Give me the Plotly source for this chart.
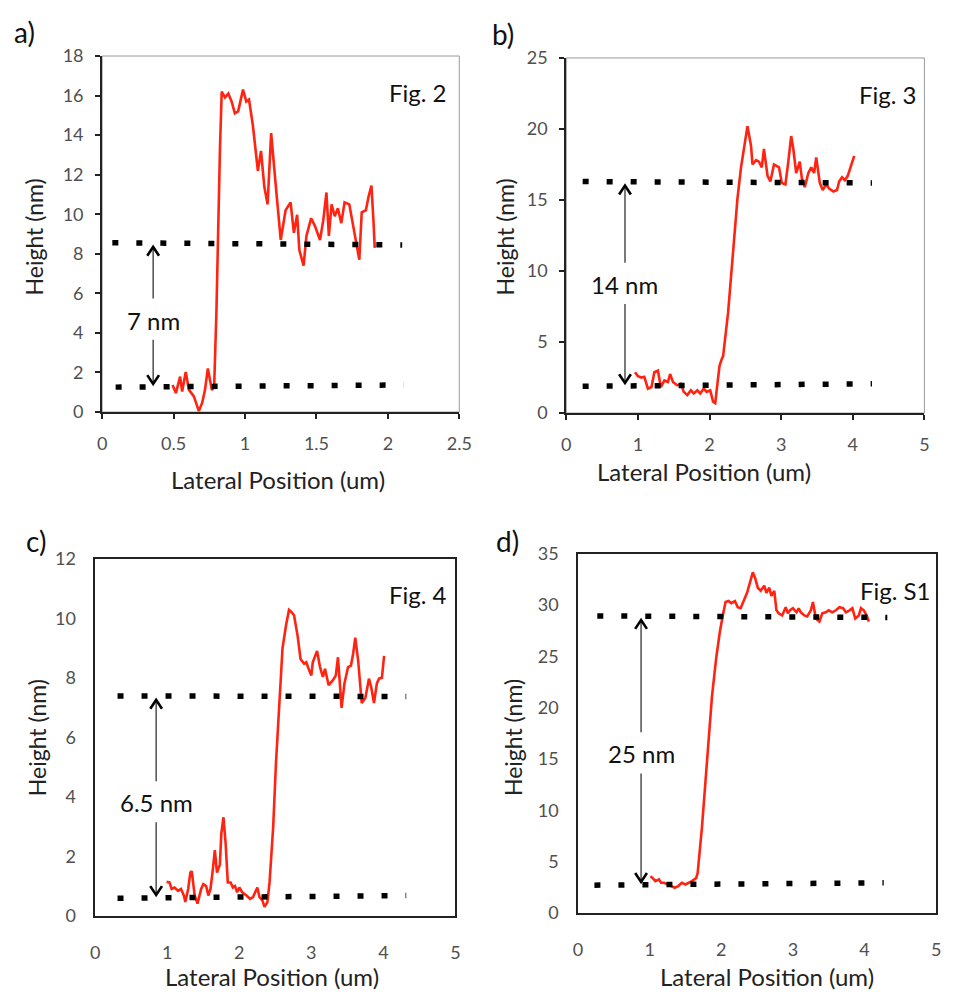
import plotly.graph_objects as go

W, H = 958, 1005
FONT = "Lato"
RED = "#ff2312"

# ---------------- a) Fig. 2 ----------------
a_x = [0.493, 0.516, 0.546, 0.56, 0.585, 0.608, 0.642, 0.677, 0.70, 0.72, 0.74, 0.768, 0.784,
       0.80, 0.825, 0.837, 0.86, 0.883, 0.906, 0.929, 0.952, 0.968, 0.986, 1.009, 1.028, 1.055,
       1.09, 1.112, 1.135, 1.158, 1.183, 1.216, 1.25, 1.284, 1.319, 1.342, 1.365, 1.38, 1.41,
       1.43, 1.463, 1.49, 1.525, 1.548, 1.57, 1.587, 1.606, 1.628, 1.65, 1.674, 1.697, 1.73,
       1.755, 1.778, 1.80, 1.817, 1.846, 1.865, 1.885, 1.90, 1.908]
a_y = [1.37, 0.96, 1.79, 1.04, 2.03, 1.12, 0.79, 0.05, 0.46, 1.12, 2.2, 1.12, 1.29,
       5.1, 13.4, 16.2, 15.9, 16.1, 15.7, 15.1, 15.2, 15.8, 16.3, 15.7, 15.8, 14.5,
       12.2, 13.2, 11.4, 10.5, 14.1, 11.4, 8.7, 10.2, 10.6, 9.06, 9.97, 8.2, 7.4,
       8.9, 9.8, 9.4, 8.7, 9.7, 11.1, 8.9, 10.5, 9.9, 10.3, 9.55, 10.6, 10.5,
       9.47, 8.7, 7.7, 10.1, 10.2, 10.9, 11.45, 9.55, 8.3]
a_top_x, a_top_y = [0.092, 2.076], [8.56, 8.45]
a_base_x, a_base_y = [0.115, 2.087], [1.26, 1.37]
a_step_label, a_arrow_x, a_label_y = "7 nm", 0.357, 4.65

# ---------------- b) Fig. 3 ----------------
b_x = [0.96, 1.0, 1.05, 1.09, 1.14, 1.19, 1.23, 1.28, 1.32, 1.37, 1.42, 1.45, 1.49, 1.55, 1.60,
       1.64, 1.69, 1.74, 1.78, 1.83, 1.87, 1.92, 1.96, 2.01, 2.05, 2.08, 2.11, 2.14, 2.17, 2.19,
       2.26, 2.33, 2.39, 2.44, 2.48, 2.53, 2.58, 2.60, 2.65, 2.69, 2.73, 2.76, 2.81, 2.85, 2.90,
       2.97, 3.01, 3.06, 3.10, 3.14, 3.17, 3.21, 3.26, 3.29, 3.33, 3.38, 3.42, 3.46, 3.49, 3.54,
       3.58, 3.63, 3.67, 3.73, 3.78, 3.81, 3.85, 3.89, 3.93, 3.97, 4.02]
b_y = [2.87, 2.6, 2.5, 2.55, 1.72, 1.83, 2.87, 2.98, 1.83, 2.29, 2.18, 2.75, 2.18, 1.95, 2.06,
       1.49, 1.26, 1.6, 1.38, 1.6, 1.38, 1.72, 1.49, 1.6, 0.8, 0.69, 2.06, 3.33, 3.78, 4.01,
       7.1, 11.7, 15.1, 17.3, 18.6, 20.2, 18.8, 17.5, 17.8, 17.7, 17.3, 18.6, 16.7, 16.3, 17.5,
       17.3, 16.2, 16.1, 17.7, 19.5, 18.6, 16.9, 17.7, 16.5, 15.9, 16.9, 17.3, 16.9, 18.0, 16.2,
       15.7, 16.1, 15.8, 15.6, 15.7, 16.3, 16.6, 16.4, 16.7, 17.4, 18.1]
b_top_x, b_top_y = [0.27, 4.22], [16.3, 16.2]
b_base_x, b_base_y = [0.27, 4.22], [1.88, 2.06]
b_step_label, b_arrow_x, b_label_y = "14 nm", 0.82, 9.06

# ---------------- c) Fig. 4 ----------------
c_x = [0.99, 1.03, 1.06, 1.10, 1.15, 1.19, 1.23, 1.25, 1.29, 1.32, 1.34, 1.38, 1.42, 1.47, 1.50,
       1.54, 1.57, 1.60, 1.63, 1.66, 1.69, 1.73, 1.75, 1.78, 1.81, 1.84, 1.88, 1.91, 1.94, 1.97,
       2.0, 2.04, 2.10, 2.15, 2.19, 2.23, 2.25, 2.28, 2.32, 2.35, 2.39, 2.42, 2.47, 2.51, 2.56,
       2.60, 2.65, 2.69, 2.72, 2.76, 2.81, 2.85, 2.90, 2.93, 2.97, 3.0, 3.02, 3.08, 3.12, 3.16,
       3.19, 3.24, 3.30, 3.34, 3.37, 3.42, 3.46, 3.51, 3.55, 3.58, 3.61, 3.65, 3.70, 3.75, 3.80,
       3.83, 3.87, 3.91, 3.94, 3.98, 4.01]
c_y = [1.14, 1.12, 0.9, 0.95, 0.84, 0.9, 0.68, 0.46, 0.9, 1.45, 1.5, 0.68, 0.41, 0.9, 1.06,
       1.0, 0.68, 0.9, 1.5, 2.21, 1.45, 1.72, 2.76, 3.31, 2.43, 1.12, 1.12, 0.95, 1.0, 0.79,
       0.95, 0.79, 0.68, 0.57, 0.63, 0.84, 0.95, 0.63, 0.52, 0.30, 0.46, 1.12, 2.98, 5.18, 7.48,
       9.0, 9.78, 10.28, 10.22, 10.1, 9.4, 8.63, 8.47, 8.52, 8.25, 8.08, 8.52, 8.9, 8.36, 8.03,
       8.3, 7.75, 7.92, 8.08, 8.69, 6.99, 7.81, 8.36, 8.41, 8.8, 9.35, 8.58, 7.15, 7.32, 7.97,
       7.7, 7.15, 7.81, 7.97, 8.0, 8.74]
c_top_x, c_top_y = [0.35, 4.27], [7.39, 7.37]
c_base_x, c_base_y = [0.35, 4.27], [0.59, 0.68]
c_step_label, c_arrow_x, c_label_y = "6.5 nm", 0.845, 3.8

# ---------------- d) Fig. S1 ----------------
d_x = [1.01, 1.04, 1.08, 1.13, 1.16, 1.20, 1.25, 1.29, 1.35, 1.40, 1.45, 1.50, 1.55, 1.59, 1.65,
       1.67, 1.73, 1.80, 1.87, 1.93, 1.98, 2.03, 2.06, 2.10, 2.14, 2.19, 2.23, 2.27, 2.31, 2.36,
       2.40, 2.44, 2.47, 2.51, 2.55, 2.60, 2.63, 2.67, 2.70, 2.74, 2.77, 2.80, 2.85, 2.90, 2.93,
       2.96, 3.0, 3.05, 3.08, 3.11, 3.16, 3.20, 3.25, 3.28, 3.32, 3.37, 3.41, 3.46, 3.50, 3.55,
       3.60, 3.65, 3.70, 3.74, 3.79, 3.83, 3.87, 3.92, 3.95, 3.99, 4.03, 4.06]
d_y = [3.56, 3.4, 3.09, 3.25, 2.93, 2.93, 2.77, 2.61, 2.45, 2.61, 2.93, 2.77, 2.93, 3.09, 3.4,
       3.88, 8.34, 14.7, 21.1, 24.9, 27.4, 29.3, 30.3, 30.4, 30.2, 30.4, 29.8, 29.7, 30.4, 31.2,
       32.2, 33.2, 32.7, 31.7, 31.4, 31.9, 31.2, 31.7, 30.9, 31.4, 29.5, 29.2, 29.0, 29.8, 29.2,
       29.5, 29.7, 29.3, 29.7, 29.3, 29.0, 28.9, 29.5, 30.3, 28.7, 28.4, 29.2, 29.3, 29.5, 29.3,
       29.5, 29.8, 29.7, 29.3, 29.5, 29.7, 28.7, 29.0, 29.7, 29.5, 29.0, 28.4]
d_top_x, d_top_y = [0.31, 4.27], [28.95, 28.8]
d_base_x, d_base_y = [0.27, 4.22], [2.70, 2.93]
d_step_label, d_arrow_x, d_label_y = "25 nm", 0.88, 15.5

# Axis ranges and tick steps
x_ranges = {"a": [0, 2.5], "b": [0, 5], "c": [0, 5], "d": [0, 5]}
y_ranges = {"a": [0, 18], "b": [0, 25], "c": [0, 12], "d": [0, 35]}
x_dtick = {"a": 0.5, "b": 1, "c": 1, "d": 1}
y_dtick = {"a": 2, "b": 5, "c": 2, "d": 5}
fig_tags = {"a": "Fig. 2", "b": "Fig. 3", "c": "Fig. 4", "d": "Fig. S1"}

# Plot-area boxes in pixels (left, top, right, bottom)
boxes = {"a": (99, 45, 463, 409), "b": (572, 47, 937, 410),
         "c": (92, 559, 459, 924), "d": (584, 554, 949, 921)}
axis_ids = {"a": "", "b": "2", "c": "3", "d": "4"}
# right-edge inset of the figure tag, in pixels
tag_inset = {"a": 11, "b": 6, "c": 7, "d": 3}

panels = {
    "a": (a_x, a_y, a_top_x, a_top_y, a_base_x, a_base_y, a_step_label, a_arrow_x, a_label_y),
    "b": (b_x, b_y, b_top_x, b_top_y, b_base_x, b_base_y, b_step_label, b_arrow_x, b_label_y),
    "c": (c_x, c_y, c_top_x, c_top_y, c_base_x, c_base_y, c_step_label, c_arrow_x, c_label_y),
    "d": (d_x, d_y, d_top_x, d_top_y, d_base_x, d_base_y, d_step_label, d_arrow_x, d_label_y),
}

fig = go.Figure()
shapes, annotations, layout_axes = [], [], {}


def px2fx(px):
    return px / W


def py2fy(py):
    return 1 - py / H


def paper_text(px, py, text, size, color="#111", angle=0, xanchor="center"):
    return dict(x=px2fx(px), y=py2fy(py), xref="paper", yref="paper", text=text,
                textangle=angle, showarrow=False, xanchor=xanchor, yanchor="middle",
                font=dict(family=FONT, size=size, color=color))


for key, (xs, ys, tx, ty, bx, by, step, ax_x, lab_y) in panels.items():
    n = axis_ids[key]
    xa, ya = "x" + n, "y" + n
    l, t, r, b = boxes[key]
    xr, yr = x_ranges[key], y_ranges[key]
    ux = (xr[1] - xr[0]) / (r - l)   # data units per pixel (x)
    uy = (yr[1] - yr[0]) / (b - t)   # data units per pixel (y)

    # measured profile
    fig.add_trace(go.Scatter(x=xs, y=ys, mode="lines", xaxis=xa, yaxis=ya,
                             line=dict(color=RED, width=2.6), showlegend=False,
                             hoverinfo="skip"))
    # dotted reference levels (square dots, 6 px on / 18 px off)
    for lx, ly in ((tx, ty), (bx, by)):
        fig.add_trace(go.Scatter(x=[lx[0] - 3 * ux, lx[1] + 3.5 * ux], y=ly, mode="lines",
                                 xaxis=xa, yaxis=ya, showlegend=False, hoverinfo="skip",
                                 line=dict(color="black", width=5.5, dash="6px,18px")))

    # step-height arrows
    top_level = ty[0] + (ty[1] - ty[0]) * (ax_x - tx[0]) / (tx[1] - tx[0])
    base_level = by[0] + (by[1] - by[0]) * (ax_x - bx[0]) / (bx[1] - bx[0])
    up_tail, up_tip = lab_y + 22 * uy, top_level - 4 * uy
    dn_tail, dn_tip = lab_y - 20 * uy, base_level + 3 * uy
    hw, hh = 6 * ux, 9 * uy
    for tail, tip, sgn in ((up_tail, up_tip, 1), (dn_tail, dn_tip, -1)):
        shapes.append(dict(type="line", xref=xa, yref=ya, x0=ax_x, x1=ax_x, y0=tail, y1=tip,
                           line=dict(color="#222", width=1.2)))
        shapes.append(dict(type="path", xref=xa, yref=ya,
                           path=f"M{ax_x - hw},{tip - sgn * hh} L{ax_x},{tip} L{ax_x + hw},{tip - sgn * hh}",
                           line=dict(color="black", width=2.6)))
    annotations.append(dict(x=ax_x, y=lab_y, xref=xa, yref=ya, text=step, showarrow=False,
                            xanchor="center", yanchor="middle",
                            font=dict(family=FONT, size=24, color="#111")))

    # figure tag in the upper right corner
    annotations.append(paper_text(r - tag_inset[key], t + 37, fig_tags[key], 24, xanchor="right"))

    # axes
    boxed = key in ("c", "d")
    common = dict(showgrid=False, zeroline=False, showline=True, linecolor="#222",
                  linewidth=1.5 if boxed else 2, mirror=boxed,
                  ticks="" if boxed else "outside", ticklen=5, tickwidth=1.5, tickcolor="#222",
                  tickfont=dict(family=FONT, size=18, color="#505050"), fixedrange=True)
    layout_axes["xaxis" + n] = dict(common, domain=[px2fx(l), px2fx(r)], range=xr,
                                    dtick=x_dtick[key], tick0=0, anchor=ya,
                                    ticklabelstandoff=9 if not boxed else 20)
    layout_axes["yaxis" + n] = dict(common, domain=[py2fy(b), py2fy(t)], range=yr,
                                    dtick=y_dtick[key], tick0=0, anchor=xa,
                                    ticklabelstandoff=8 if not boxed else 14)
    if not boxed:
        shapes.append(dict(type="rect", xref=xa + " domain", yref=ya + " domain",
                           x0=0, x1=1, y0=0, y1=1, layer="below",
                           line=dict(color="#9a9a9a", width=1)))

# axis titles and panel letters (pixel positions)
titles = {"a": ((30, 230), (278, 478)), "b": ((510, 230), (712, 470)),
          "c": ((32, 742), (272, 986)), "d": ((517, 742), (777, 986))}
letters = {"a": (20, 20), "b": (508, 22), "c": (32, 541), "d": (512, 541)}
for key in panels:
    (yx, yy), (xx, xy) = titles[key]
    annotations.append(paper_text(yx, yy, "Height (nm)", 23, color="#222", angle=-90))
    annotations.append(paper_text(xx, xy, "Lateral Position (um)", 24, color="#222"))
    lx, ly = letters[key]
    annotations.append(paper_text(lx, ly, key + ")", 28))

fig.update_layout(width=W, height=H, margin=dict(l=0, r=0, t=0, b=0),
                  paper_bgcolor="white", plot_bgcolor="white",
                  shapes=shapes, annotations=annotations, **layout_axes)
fig.write_html("out.html")
